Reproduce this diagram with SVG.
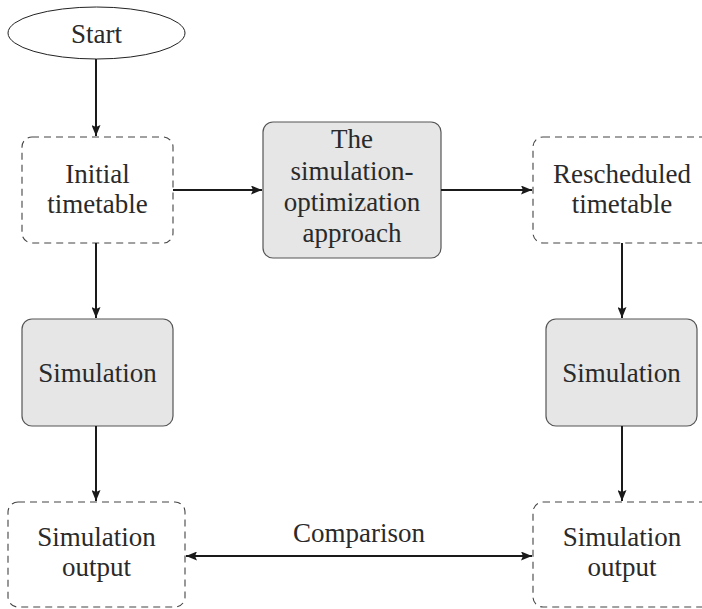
<svg xmlns="http://www.w3.org/2000/svg" width="702" height="609" viewBox="0 0 702 609">
<defs>
<marker id="ah" viewBox="0 0 11 9" refX="11" refY="4.5" markerWidth="11" markerHeight="9" markerUnits="userSpaceOnUse" orient="auto-start-reverse">
<path d="M0,0 L11,4.5 L0,9 L2,4.5 Z" fill="#1a1a1a"/>
</marker>
<style>
.t{font-family:'Liberation Serif','Times New Roman',serif;font-size:27px;fill:#2a2a2a;text-anchor:middle}
.dash{fill:#fff;stroke:#444;stroke-width:1.1;stroke-dasharray:7 5}
.proc{fill:#e6e6e6;stroke:#555;stroke-width:1.2}
.edge{stroke:#1a1a1a;stroke-width:2;fill:none;marker-end:url(#ah)}
</style>
</defs>
<rect width="702" height="609" fill="#fff"/>
<g class="t">
<g id="start">
<ellipse cx="96.5" cy="33" rx="88.5" ry="26" fill="#fff" stroke="#222" stroke-width="1"/>
<text x="96.5" y="43">Start</text>
</g>
<g id="initial">
<rect class="dash" x="22" y="137" width="151" height="106" rx="10"/>
<text x="97.5" y="183">Initial</text>
<text x="97.5" y="213">timetable</text>
</g>
<g id="approach">
<rect class="proc" x="263" y="122" width="178" height="136" rx="10"/>
<text x="352" y="148">The</text>
<text x="352" y="180">simulation-</text>
<text x="352" y="211">optimization</text>
<text x="352" y="242">approach</text>
</g>
<g id="rescheduled">
<rect class="dash" x="533" y="137" width="180" height="106" rx="10"/>
<text x="622" y="183">Rescheduled</text>
<text x="622" y="213">timetable</text>
</g>
<g id="sim1">
<rect class="proc" x="22" y="319" width="151" height="107" rx="10"/>
<text x="97.5" y="382">Simulation</text>
</g>
<g id="sim2">
<rect class="proc" x="546" y="319" width="151" height="107" rx="10"/>
<text x="621.5" y="382">Simulation</text>
</g>
<g id="output1">
<rect class="dash" x="8" y="502" width="177" height="105" rx="10"/>
<text x="96.5" y="546">Simulation</text>
<text x="96.5" y="576">output</text>
</g>
<g id="output2">
<rect class="dash" x="533" y="502" width="180" height="105" rx="10"/>
<text x="622" y="546">Simulation</text>
<text x="622" y="576">output</text>
</g>
<g id="connectors">
<line class="edge" x1="96" y1="59" x2="96" y2="136"/>
<line class="edge" x1="173" y1="190" x2="262" y2="190"/>
<line class="edge" x1="441" y1="190" x2="532" y2="190"/>
<line class="edge" x1="96" y1="243" x2="96" y2="318"/>
<line class="edge" x1="96" y1="426" x2="96" y2="501"/>
<line class="edge" x1="622" y1="243" x2="622" y2="318"/>
<line class="edge" x1="622" y1="426" x2="622" y2="501"/>
<line class="edge" x1="186" y1="556" x2="532" y2="556" marker-start="url(#ah)"/>
<text x="359" y="542">Comparison</text>
</g>
</g>
</svg>
